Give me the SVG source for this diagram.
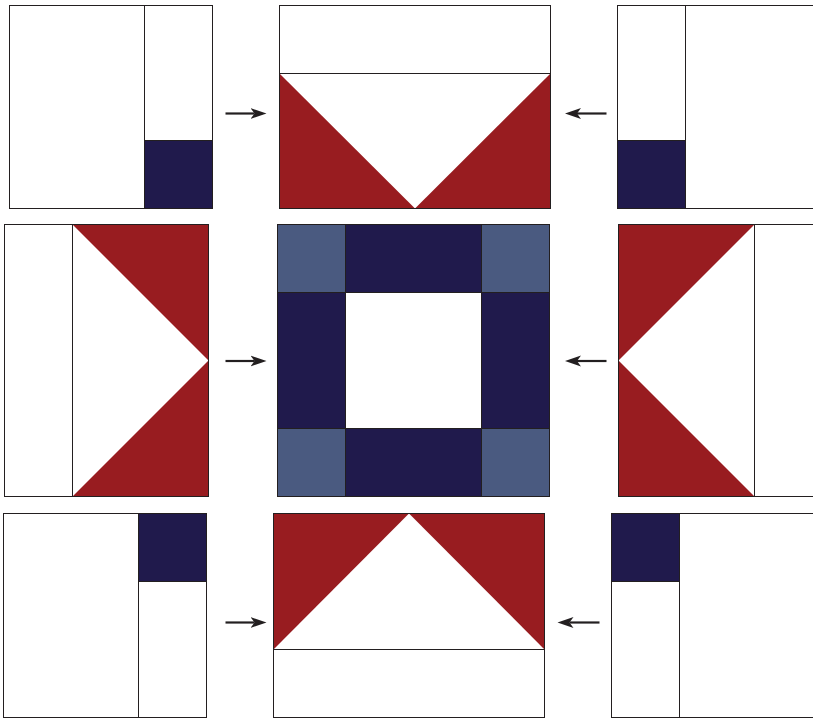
<svg xmlns="http://www.w3.org/2000/svg" width="813" height="719" viewBox="0 0 813 719">
<defs>
<style>
.w{fill:#ffffff;stroke:#231f20;stroke-width:1}
.n{fill:#201a4c;stroke:#231f20;stroke-width:1}
.c{fill:#4a5a80;stroke:#231f20;stroke-width:1}
.r{fill:#981c20;stroke:none}
.ln{fill:none;stroke:#231f20;stroke-width:1}
.ar{stroke:#231f20;stroke-width:2.2;fill:none;marker-end:url(#ah)}
</style>
<marker id="ah" markerUnits="userSpaceOnUse" markerWidth="20" markerHeight="14" viewBox="0 -7 20 14" refX="4" refY="0" orient="auto">
<path d="M0,-5.5 L16,0 L0,5.5 L4,0 Z" fill="#231f20"/>
</marker>
</defs>
<rect width="813" height="719" fill="#ffffff"/>

<g id="top-left">
<rect class="w" x="9.5" y="5.5" width="203" height="203"/>
<line class="ln" x1="144.5" y1="5.5" x2="144.5" y2="208.5"/>
<rect class="n" x="144.5" y="140.5" width="68" height="68"/>
</g>

<g id="top-middle">
<rect class="w" x="279.5" y="5.5" width="271" height="203"/>
<polygon class="r" points="279.5,73.5 279.5,208.5 415,208.5"/>
<polygon class="r" points="550.5,73.5 550.5,208.5 415,208.5"/>
<line class="ln" x1="279.5" y1="73.5" x2="550.5" y2="73.5"/>
<rect class="ln" x="279.5" y="5.5" width="271" height="203"/>
</g>

<g id="top-right">
<rect class="w" x="617.5" y="5.5" width="203" height="203"/>
<line class="ln" x1="685.5" y1="5.5" x2="685.5" y2="208.5"/>
<rect class="n" x="617.5" y="140.5" width="68" height="68"/>
</g>

<g id="middle-left">
<rect class="w" x="4.5" y="224.5" width="204" height="272"/>
<polygon class="r" points="72.5,224.5 208.5,224.5 208.5,360.5"/>
<polygon class="r" points="72.5,496.5 208.5,496.5 208.5,360.5"/>
<line class="ln" x1="72.5" y1="224.5" x2="72.5" y2="496.5"/>
<rect class="ln" x="4.5" y="224.5" width="204" height="272"/>
</g>

<g id="center">
<rect class="n" x="277.5" y="224.5" width="272" height="272"/>
<rect class="w" x="345.5" y="292.5" width="136" height="136"/>
<rect class="c" x="277.5" y="224.5" width="68" height="68"/>
<rect class="c" x="481.5" y="224.5" width="68" height="68"/>
<rect class="c" x="277.5" y="428.5" width="68" height="68"/>
<rect class="c" x="481.5" y="428.5" width="68" height="68"/>
</g>

<g id="middle-right">
<rect class="w" x="618.5" y="224.5" width="204" height="272"/>
<polygon class="r" points="618.5,224.5 754.5,224.5 618.5,360.5"/>
<polygon class="r" points="618.5,496.5 754.5,496.5 618.5,360.5"/>
<line class="ln" x1="754.5" y1="224.5" x2="754.5" y2="496.5"/>
<rect class="ln" x="618.5" y="224.5" width="204" height="272"/>
</g>

<g id="bottom-left">
<rect class="w" x="3.5" y="513.5" width="203" height="204"/>
<line class="ln" x1="138.5" y1="513.5" x2="138.5" y2="717.5"/>
<rect class="n" x="138.5" y="513.5" width="68" height="68"/>
</g>

<g id="bottom-middle">
<rect class="w" x="273.5" y="513.5" width="271" height="204"/>
<polygon class="r" points="273.5,513.5 409,513.5 273.5,649.5"/>
<polygon class="r" points="409,513.5 544.5,513.5 544.5,649.5"/>
<line class="ln" x1="273.5" y1="649.5" x2="544.5" y2="649.5"/>
<rect class="ln" x="273.5" y="513.5" width="271" height="204"/>
</g>

<g id="bottom-right">
<rect class="w" x="611.5" y="513.5" width="203" height="204"/>
<line class="ln" x1="679.5" y1="513.5" x2="679.5" y2="717.5"/>
<rect class="n" x="611.5" y="513.5" width="68" height="68"/>
</g>

<g id="connectors">
<line class="ar" x1="225.5" y1="113.5" x2="254.5" y2="113.5"/>
<line class="ar" x1="606.5" y1="113.5" x2="577" y2="113.5"/>
<line class="ar" x1="225.5" y1="361" x2="254.5" y2="361"/>
<line class="ar" x1="606.5" y1="361" x2="577" y2="361"/>
<line class="ar" x1="225.5" y1="622.5" x2="254.5" y2="622.5"/>
<line class="ar" x1="599.5" y1="622.5" x2="569.5" y2="622.5"/>
</g>
</svg>
